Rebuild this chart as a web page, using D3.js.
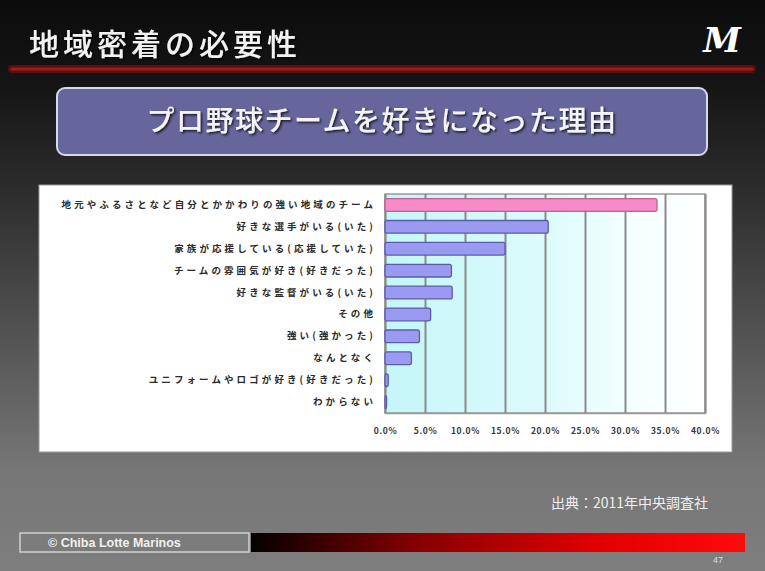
<!DOCTYPE html>
<html><head><meta charset="utf-8">
<script src="https://cdn.jsdelivr.net/npm/d3@7"></script>
<style>body{margin:0;background:#000}svg{display:block}</style>
</head><body>
<script>
const categories = ["地元やふるさとなど自分とかかわりの強い地域のチーム","好きな選手がいる(いた)","家族が応援している(応援していた)","チームの雰囲気が好き(好きだった)","好きな監督がいる(いた)","その他","強い(強かった)","なんとなく","ユニフォームやロゴが好き(好きだった)","わからない"];
const values = [34.0, 20.4, 15.0, 8.3, 8.4, 5.7, 4.3, 3.3, 0.4, 0.2];
const tickValues = [0,5,10,15,20,25,30,35,40];
const slideTitle = "地域密着の必要性";
const chartTitle = "プロ野球チームを好きになった理由";
const source = "出典：2011年中央調査社";
const copyright = "© Chiba Lotte Marinos";
const pageNo = "47";

const W = 765, H = 571;
const svg = d3.select("body").append("svg").attr("width", W).attr("height", H);
const defs = svg.append("defs");
const bg = defs.append("linearGradient").attr("id","bg").attr("x1",0).attr("y1",0).attr("x2",0).attr("y2",1);
[[0,"#0c0c0c"],[0.15,"#151515"],[0.35,"#2f2f2f"],[0.6,"#555"],[0.82,"#767676"],[1,"#7e7e7e"]].forEach(s=>bg.append("stop").attr("offset",s[0]).attr("stop-color",s[1]));
const pg = defs.append("linearGradient").attr("id","plotbg").attr("x1",0).attr("y1",0).attr("x2",1).attr("y2",0);
[[0,"#c4f6f8"],[0.5,"#dcfbfb"],[0.8,"#f6ffff"],[1,"#ffffff"]].forEach(s=>pg.append("stop").attr("offset",s[0]).attr("stop-color",s[1]));
const rg = defs.append("linearGradient").attr("id","redbar").attr("x1",0).attr("y1",0).attr("x2",1).attr("y2",0);
[[0,"#050000"],[0.35,"#8a0000"],[0.7,"#e00000"],[1,"#ff0a0a"]].forEach(s=>rg.append("stop").attr("offset",s[0]).attr("stop-color",s[1]));
const sh = defs.append("filter").attr("id","shadow");
sh.append("feDropShadow").attr("dx",1.5).attr("dy",1.5).attr("stdDeviation",0.8).attr("flood-color","#000").attr("flood-opacity",0.8);

svg.append("rect").attr("width",W).attr("height",H).attr("fill","url(#bg)");

// slide title
svg.append("text").attr("x",29).attr("y",55).attr("fill","#f2f2f2")
  .attr("font-family","Noto Sans CJK JP").attr("font-size",30).attr("font-weight",500)
  .attr("letter-spacing",4).attr("filter","url(#shadow)").text(slideTitle);
svg.append("text").attr("x",722).attr("y",52).attr("text-anchor","middle").attr("fill","#fff")
  .attr("font-family","DejaVu Serif").attr("font-style","italic").attr("font-weight","bold")
  .attr("font-size",34).text("M");
// red rule
svg.append("line").attr("x1",12).attr("x2",752).attr("y1",69).attr("y2",69).attr("stroke","#5a0e0e").attr("stroke-width",8).attr("stroke-linecap","round");
svg.append("line").attr("x1",12).attr("x2",752).attr("y1",69).attr("y2",69).attr("stroke","#9a1e1e").attr("stroke-width",3).attr("stroke-linecap","round");

// chart title box
svg.append("rect").attr("x",57).attr("y",88).attr("width",650).attr("height",67).attr("rx",8)
  .attr("fill","#66669c").attr("stroke","#d8d8ee").attr("stroke-width",2);
svg.append("text").attr("x",382).attr("y",131).attr("text-anchor","middle").attr("fill","#f4f4f4")
  .attr("font-family","Noto Sans CJK JP").attr("font-size",28).attr("font-weight",500)
  .attr("letter-spacing",1.5).attr("filter","url(#shadow)").text(chartTitle);

// chart panel
svg.append("rect").attr("x",39).attr("y",185).attr("width",693).attr("height",267).attr("fill","#fff")
  .attr("stroke","#9a9a9a").attr("stroke-width",1);

const x = d3.scaleLinear().domain([0,40]).range([385,705]);
const y = d3.scaleBand().domain(categories).range([194,413]).paddingInner(0.42).paddingOuter(0.21);

svg.append("rect").attr("x",x(0)).attr("y",194).attr("width",x(40)-x(0)).attr("height",219)
  .attr("fill","url(#plotbg)").attr("stroke","#999").attr("stroke-width",1.5);

svg.append("g").attr("transform","translate(0,413)")
  .call(d3.axisBottom(x).tickValues(tickValues).tickSize(-219).tickFormat(d=>d3.format(".1f")(d)+"%"))
  .call(g=>g.select(".domain").attr("stroke","#999").attr("stroke-width",1.5))
  .call(g=>g.selectAll(".tick line").attr("stroke","#8a8a8a").attr("stroke-width",2))
  .call(g=>g.selectAll(".tick text").attr("y",15).attr("fill","#333").attr("font-family","Noto Sans CJK JP")
      .attr("font-size",8.5).attr("font-weight","bold").attr("letter-spacing",0.6));

svg.append("g").selectAll("rect").data(categories).join("rect")
  .attr("x",x(0)).attr("y",d=>y(d)).attr("height",y.bandwidth())
  .attr("width",(d,i)=>Math.max(1.5,x(values[i])-x(0))).attr("rx",2)
  .attr("fill",(d,i)=>i===0?"#f78ac8":"#9a9af2")
  .attr("stroke",(d,i)=>i===0?"#c0608f":"#5c5ca8").attr("stroke-width",1.3);

svg.append("g").attr("transform",`translate(${x(0)},0)`)
  .call(d3.axisLeft(y).tickSize(0).tickPadding(9))
  .call(g=>g.select(".domain").remove())
  .call(g=>g.selectAll(".tick text").attr("fill","#2a2a2a").attr("font-family","Noto Sans CJK JP")
      .attr("font-size",9.5).attr("font-weight","bold").attr("letter-spacing",3.1));

// footer
svg.append("text").attr("x",708).attr("y",508).attr("text-anchor","end").attr("fill","#f0f0f0")
  .attr("font-family","Noto Sans CJK JP").attr("font-size",14).text(source);
svg.append("rect").attr("x",20).attr("y",533).attr("width",229).attr("height",19)
  .attr("fill","#7c7c7c").attr("stroke","#d0d0d0").attr("stroke-width",1.5);
svg.append("text").attr("x",48).attr("y",547).attr("fill","#f0f0f0")
  .attr("font-family","Liberation Sans").attr("font-size",12.5).attr("font-weight","bold").text(copyright);
svg.append("rect").attr("x",251).attr("y",533).attr("width",494).attr("height",19).attr("fill","url(#redbar)");
svg.append("text").attr("x",718).attr("y",563).attr("text-anchor","middle").attr("fill","#ddd")
  .attr("font-family","Liberation Sans").attr("font-size",9).text(pageNo);
</script>
</body></html>
